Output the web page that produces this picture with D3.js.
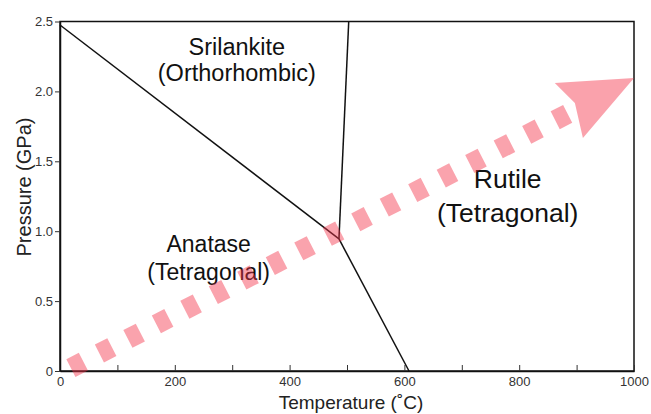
<!DOCTYPE html>
<html>
<head>
<meta charset="utf-8">
<script src="https://cdn.jsdelivr.net/npm/d3@7"></script>
<style>
  body { margin: 0; background: #fff; }
  text { font-family: "Liberation Sans", Arial, sans-serif; }
</style>
</head>
<body>
<div id="chart"></div>
<script>
"use strict";

// axis ranges and ticks
const X_DOMAIN = [0, 1000];
const Y_DOMAIN = [0, 2.5];
const X_MAJOR = [0, 200, 400, 600, 800, 1000];
const X_MINOR = [100, 300, 500, 700, 900];
const Y_TICKS = [0, 0.5, 1.0, 1.5, 2.0, 2.5];
const Y_TICK_LABELS = ["0", "0.5", "1.0", "1.5", "2.0", "2.5"];

// phase boundaries [T (°C), P (GPa)]
const boundaryAnataseSrilankite = [[0, 2.475], [486, 0.945]];
const boundarySrilankiteRutile = [[486, 0.945], [503, 2.5]];
const boundaryAnataseRutile = [[486, 0.945], [608, 0]];

// P-T path arrow (dashed shaft + head)
const arrowShaft = [[19, 0.021], [891, 1.853]];
const arrowHead = [[862, 2.06], [1000, 2.096], [911, 1.667], [897, 1.917]];

// phase field labels (first baseline at T, P)
const phaseLabels = [
  { lines: ["Srilankite", "(Orthorhombic)"], T: 308, P: 2.26, size: 23.5, lead: 26 },
  { lines: ["Anatase", "(Tetragonal)"], T: 259, P: 0.851, size: 23, lead: 28 },
  { lines: ["Rutile", "(Tetragonal)"], T: 780, P: 1.309, size: 26.5, lead: 34 }
];

const width = 651, height = 414;
const margin = { top: 21.5, right: 17, bottom: 43, left: 60 };

const svg = d3.select("#chart")
  .append("svg")
  .attr("width", width)
  .attr("height", height);

const x = d3.scaleLinear()
  .domain(X_DOMAIN)
  .range([margin.left, width - margin.right]);

const y = d3.scaleLinear()
  .domain(Y_DOMAIN)
  .range([height - margin.bottom, margin.top]);

const line = d3.line()
  .x(d => x(d[0]))
  .y(d => y(d[1]));

// frame
svg.append("rect")
  .attr("x", x(0))
  .attr("y", y(2.5))
  .attr("width", x(1000) - x(0))
  .attr("height", y(0) - y(2.5))
  .attr("fill", "none")
  .attr("stroke", "#111")
  .attr("stroke-width", 1.5);

// x axis: inward ticks
const xAxis = d3.axisBottom(x)
  .tickValues(X_MAJOR.concat(X_MINOR))
  .tickSizeInner(-6)
  .tickSizeOuter(0)
  .tickPadding(6)
  .tickFormat(d => X_MAJOR.includes(d) ? d : "");

const gx = svg.append("g")
  .attr("transform", `translate(0,${y(0)})`)
  .call(xAxis);
gx.select(".domain").attr("stroke", "#111").attr("stroke-width", 1.5);
gx.selectAll(".tick line").attr("stroke", "#333").attr("stroke-width", 1);
gx.selectAll(".tick text")
  .attr("font-size", 13)
  .attr("fill", "#333")
  .attr("font-family", "'Liberation Sans', Arial, sans-serif");

// y axis: outward ticks
const yAxis = d3.axisLeft(y)
  .tickValues(Y_TICKS)
  .tickSizeInner(5)
  .tickSizeOuter(0)
  .tickPadding(2)
  .tickFormat((d, i) => Y_TICK_LABELS[i]);

const gy = svg.append("g")
  .attr("transform", `translate(${x(0)},0)`)
  .call(yAxis);
gy.select(".domain").attr("stroke", "#111").attr("stroke-width", 1.5);
gy.selectAll(".tick line").attr("stroke", "#333").attr("stroke-width", 1);
gy.selectAll(".tick text")
  .attr("font-size", 13)
  .attr("fill", "#333")
  .attr("font-family", "'Liberation Sans', Arial, sans-serif");

// axis titles
svg.append("text")
  .attr("x", 351)
  .attr("y", 409)
  .attr("text-anchor", "middle")
  .attr("font-size", 19)
  .attr("fill", "#222")
  .text("Temperature (˚C)");

svg.append("text")
  .attr("transform", "translate(31,187) rotate(-90)")
  .attr("text-anchor", "middle")
  .attr("font-size", 20)
  .attr("fill", "#222")
  .text("Pressure (GPa)");

// phase field labels
for (let lab of phaseLabels) {
  const t = svg.append("text")
    .attr("text-anchor", "middle")
    .attr("font-size", lab.size)
    .attr("fill", "#111");
  lab.lines.forEach((s, i) => {
    t.append("tspan")
      .attr("x", x(lab.T))
      .attr("y", y(lab.P) + i * lab.lead)
      .text(s);
  });
}

// phase boundaries
for (let b of [boundaryAnataseSrilankite, boundarySrilankiteRutile, boundaryAnataseRutile]) {
  svg.append("path")
    .attr("d", line(b))
    .attr("fill", "none")
    .attr("stroke", "#111")
    .attr("stroke-width", 1.5);
}

// arrow (semi-transparent pink, drawn on top)
const arrow = svg.append("g").attr("opacity", 0.45);
arrow.append("path")
  .attr("d", line(arrowShaft))
  .attr("fill", "none")
  .attr("stroke", "#f5334a")
  .attr("stroke-width", 20)
  .attr("stroke-dasharray", "14,18");
arrow.append("path")
  .attr("d", line(arrowHead) + "Z")
  .attr("fill", "#f5334a");
</script>
</body>
</html>
